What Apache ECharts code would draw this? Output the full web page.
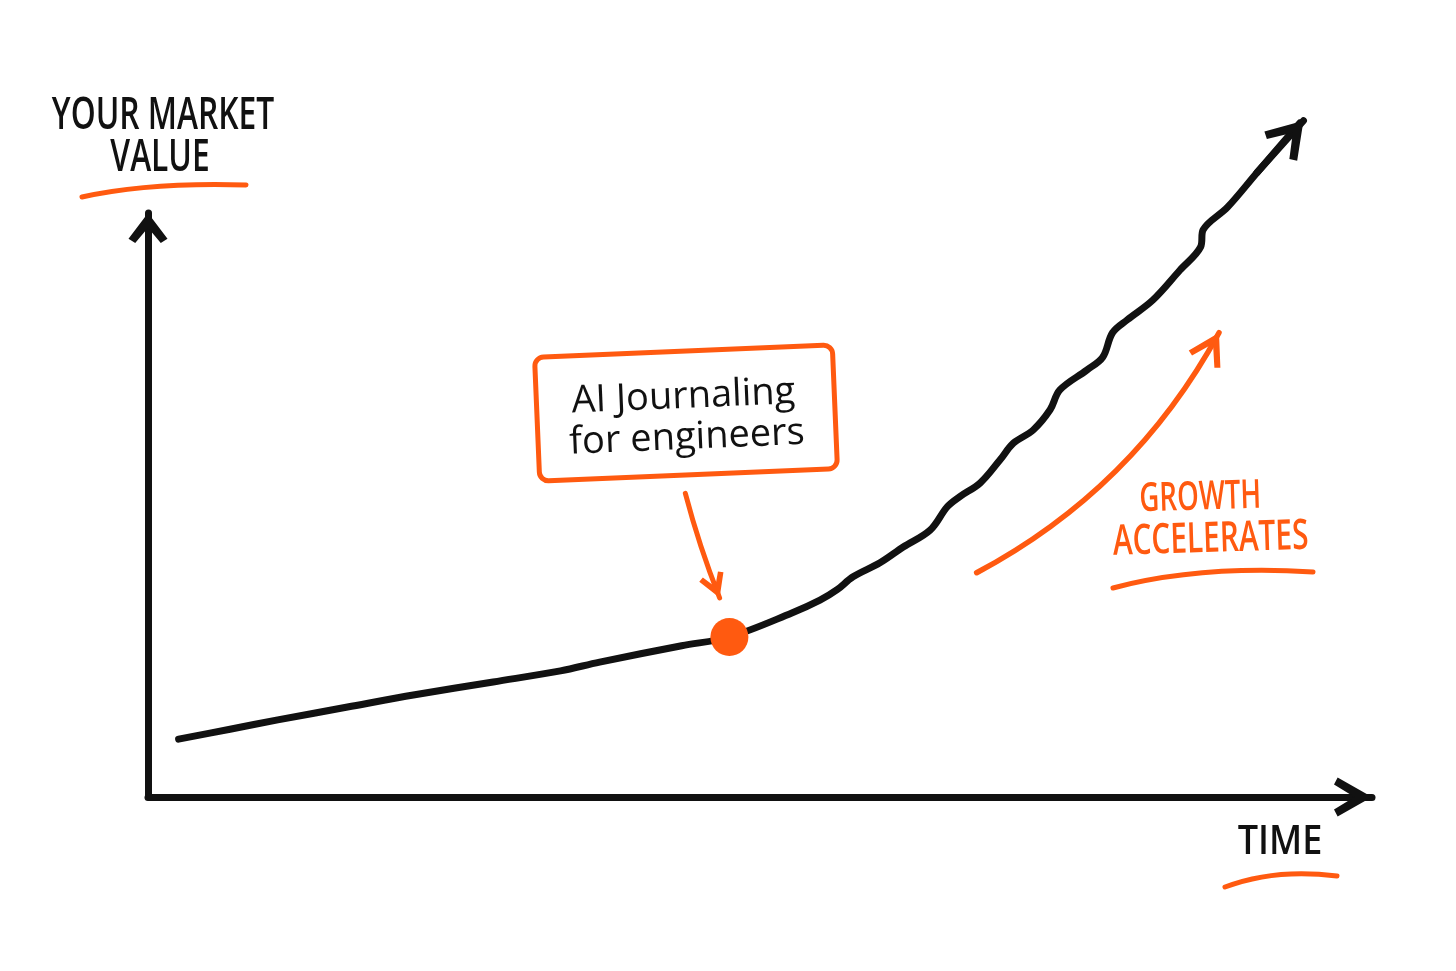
<!DOCTYPE html>
<html>
<head>
<meta charset="utf-8">
<script src="https://cdn.jsdelivr.net/npm/echarts@6/dist/echarts.min.js"></script>
<style>
html,body{margin:0;padding:0;background:#ffffff;}
#chart{width:1456px;height:971px;}
</style>
</head>
<body>
<div id="chart"></div>
<script>
// ---- data (x = time, y = market value, axis spans 0..100) ----
const timeValues   = [2.5, 6.7, 10.6, 16.3, 21.8, 28.2, 33.7, 36.9, 43.6, 47.5, 52.6, 54.9, 56.3, 57.6, 59.8, 61.7, 63.9, 65.3, 66.3, 68.0, 69.6, 70.7, 72.3, 73.7, 74.5, 76.7, 78.0, 78.8, 80.0, 82.1, 84.3, 86.0, 86.2, 88.2, 90.6, 94.1];
const marketValues = [9.9, 11.6, 13.2, 15.4, 17.5, 19.7, 21.6, 23.1, 25.9, 27.4, 31.5, 33.7, 35.5, 37.7, 40.1, 42.8, 45.7, 49.7, 51.4, 53.8, 57.7, 60.6, 62.8, 66.3, 69.7, 73.1, 75.3, 79.5, 81.7, 85.1, 90.2, 94.2, 97.1, 101.0, 106.9, 115.4];
const curveTip     = [94.4, 115.8];
const milestone    = [47.5, 27.4];
const milestoneText = ['AI Journaling', 'for engineers'];
const pointerArrow = [[43.9, 52.0], [46.7, 34.1]];
const growthArrow  = [[67.7, 38.4], [87.5, 79.5]];
const yAxisTitle   = ['YOUR MARKET', 'VALUE'];
const xAxisTitle   = 'TIME';
const growthText   = ['GROWTH', 'ACCELERATES'];

const BLACK = '#111111';
const ORANGE = '#FF5A10';
const FONT = '"Open Sans", "Noto Sans", sans-serif';

// open chevron arrow head, pointing up, tip at the centre of its box
function chevron(w, L, t) {
  const len = Math.hypot(w, L);
  const nx = t * L / len, ny = t * w / len;
  const notch = t * len / w;
  const f = v => v.toFixed(2);
  return 'path://M' + f(w) + ',0 M' + f(w) + ',' + f(L) +
    ' L' + f(2 * w) + ',' + f(2 * L - ny) +
    ' L' + f(2 * w - nx) + ',' + f(2 * L) +
    ' L' + f(w) + ',' + f(L + notch) +
    ' L' + f(nx) + ',' + f(2 * L) +
    ' L0,' + f(2 * L - ny) + ' Z';
}

const curveData = timeValues.map((t, i) => [t, marketValues[i]]);
const lastPt = curveData[curveData.length - 2];

const chart = echarts.init(document.getElementById('chart'), null, {renderer: 'canvas'});

const option = {
  backgroundColor: '#ffffff',
  animation: false,
  grid: {left: 148, right: 84, top: 213, bottom: 174},
  xAxis: {
    type: 'value', min: 0, max: 100,
    axisLine: {
      show: true, onZero: false,
      lineStyle: {color: BLACK, width: 7, cap: 'round'},
      symbol: ['none', chevron(19.5, 38, 8)],
      symbolSize: [39, 76]
    },
    axisTick: {show: false}, axisLabel: {show: false}, splitLine: {show: false}
  },
  yAxis: {
    type: 'value', min: 0, max: 100,
    axisLine: {
      show: true, onZero: false,
      lineStyle: {color: BLACK, width: 7, cap: 'round'},
      symbol: ['none', chevron(19.5, 30, 8)],
      symbolSize: [39, 60]
    },
    axisTick: {show: false}, axisLabel: {show: false}, splitLine: {show: false}
  },
  series: [
    {
      type: 'line', name: 'market value',
      data: curveData,
      smooth: 0.35,
      clip: false,
      showSymbol: false,
      lineStyle: {color: BLACK, width: 7, cap: 'round', join: 'round'},
      z: 3
    },
    {
      type: 'lines', coordinateSystem: 'cartesian2d', name: 'curve head',
      clip: false,
      data: [{coords: [lastPt, curveTip]}],
      symbol: ['none', chevron(22, 38, 8)],
      symbolSize: [1, [44, 76]],
      lineStyle: {color: BLACK, width: 7, opacity: 1, cap: 'round'},
      z: 4
    },
    {
      type: 'lines', coordinateSystem: 'cartesian2d', name: 'pointer',
      data: [{coords: pointerArrow}],
      symbol: ['none', chevron(13, 25, 5.5)],
      symbolSize: [1, [26, 50]],
      lineStyle: {color: ORANGE, width: 5, opacity: 1, curveness: -0.03, cap: 'round'},
      z: 4
    },
    {
      type: 'lines', coordinateSystem: 'cartesian2d', name: 'growth',
      data: [{coords: growthArrow}],
      symbol: ['none', chevron(18, 33, 6)],
      symbolSize: [1, [36, 66]],
      lineStyle: {color: ORANGE, width: 5.5, opacity: 1, curveness: -0.15, cap: 'round'},
      z: 4
    },
    {
      type: 'scatter', name: 'milestone',
      data: [milestone],
      symbol: 'circle', symbolSize: 38,
      itemStyle: {color: ORANGE, opacity: 1},
      z: 6
    }
  ],
  graphic: [
    {type: 'text', x: 163, y: 116, scaleX: 0.69,
     style: {text: yAxisTitle[0], fontFamily: FONT, fontWeight: 600, fontSize: 46, fill: BLACK, align: 'center', verticalAlign: 'middle'}},
    {type: 'text', x: 160, y: 158, scaleX: 0.69,
     style: {text: yAxisTitle[1], fontFamily: FONT, fontWeight: 600, fontSize: 46, fill: BLACK, align: 'center', verticalAlign: 'middle'}},
    {type: 'bezierCurve', shape: {x1: 82, y1: 197, x2: 246, y2: 185, cpx1: 150, cpy1: 182},
     style: {stroke: ORANGE, lineWidth: 5, lineCap: 'round', fill: null}},

    {type: 'text', x: 1280, y: 843, scaleX: 0.9,
     style: {text: xAxisTitle, fontFamily: FONT, fontWeight: 600, fontSize: 40, fill: BLACK, align: 'center', verticalAlign: 'middle'}},
    {type: 'bezierCurve', shape: {x1: 1225, y1: 887, x2: 1337, y2: 876, cpx1: 1275, cpy1: 868},
     style: {stroke: ORANGE, lineWidth: 5, lineCap: 'round', fill: null}},

    {type: 'group', x: 1205, y: 519, rotation: 0.03, children: [
      {type: 'text', x: -4, y: -21, scaleX: 0.69,
       style: {text: growthText[0], fontFamily: FONT, fontWeight: 600, fontSize: 40, fill: ORANGE, align: 'center', verticalAlign: 'middle'}},
      {type: 'text', x: 5, y: 21, scaleX: 0.71,
       style: {text: growthText[1], fontFamily: FONT, fontWeight: 600, fontSize: 42, fill: ORANGE, align: 'center', verticalAlign: 'middle'}}
    ]},
    {type: 'bezierCurve', shape: {x1: 1113, y1: 588, x2: 1313, y2: 572, cpx1: 1200, cpy1: 565},
     style: {stroke: ORANGE, lineWidth: 5, lineCap: 'round', fill: null}},

    {type: 'group', x: 686, y: 413, rotation: 0.042, children: [
      {type: 'rect', shape: {x: -149, y: -62, width: 298, height: 124, r: 9},
       style: {fill: '#ffffff', stroke: ORANGE, lineWidth: 5}},
      {type: 'text', x: -2, y: -16,
       style: {text: milestoneText[0], fontFamily: FONT, fontWeight: 500, fontSize: 38, fill: BLACK, align: 'center', verticalAlign: 'middle'}},
      {type: 'text', x: 0, y: 25,
       style: {text: milestoneText[1], fontFamily: FONT, fontWeight: 500, fontSize: 38, fill: BLACK, align: 'center', verticalAlign: 'middle'}}
    ]}
  ]
};
chart.setOption(option);
</script>
</body>
</html>
